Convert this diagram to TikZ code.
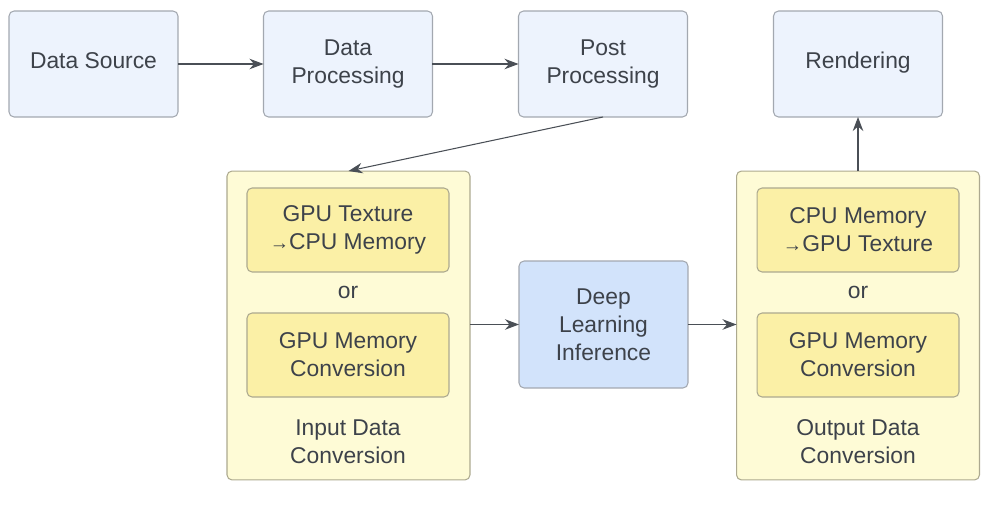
\documentclass[tikz,border=0pt]{standalone}
\usepackage{fontspec}
\setmainfont{Liberation Sans}
\usepackage{xcolor}
\usetikzlibrary{arrows.meta,positioning}

\definecolor{boxblue}{HTML}{EDF3FD}
\definecolor{dlblue}{HTML}{D2E3FB}
\definecolor{outeryellow}{HTML}{FEFBD6}
\definecolor{inneryellow}{HTML}{FBF0A6}
\definecolor{edgegray}{HTML}{A3A8B0}
\definecolor{yedge}{HTML}{ACA98F}
\definecolor{textgray}{HTML}{3D424A}
\definecolor{arrowgray}{HTML}{4A4F56}

\tikzset{
  stage/.style={draw=edgegray, line width=0.6pt, fill=boxblue, rounded corners=0.1cm,
    minimum width=3.38cm, minimum height=2.12cm, align=center, text=textgray,
    inner sep=0pt, outer sep=0pt},
  onestage/.style={stage, text height=9.5pt, text depth=4.8pt},
  container/.style={draw=yedge, line width=0.6pt, fill=outeryellow, rounded corners=0.1cm,
    minimum width=4.86cm, minimum height=6.18cm, inner sep=0pt, outer sep=0pt},
  convbox/.style={draw=yedge, line width=0.6pt, fill=inneryellow, rounded corners=0.1cm,
    minimum width=4.04cm, minimum height=1.68cm, align=center, text=textgray,
    inner sep=0pt, outer sep=0pt},
  plain/.style={align=center, text=textgray, inner sep=0pt},
  flow/.style={-{Stealth[length=8pt, width=6pt]}, draw=arrowgray, line width=0.6pt}
}
\newcommand{\smallarrow}{{\fontsize{11}{16}\selectfont →}}

\begin{document}
\begin{tikzpicture}[x=0.02cm, y=-0.02cm, font=\fontsize{13}{16}\selectfont]
    \useasboundingbox (0,0) rectangle (994,506);

    % Top row
    \node[onestage] (source) at (93.5,64) {Data Source};
    \node[stage] (proc) at (348,64) {Data\\Processing};
    \node[stage] (post) at (603,64) {Post\\Processing};
    \node[onestage] (render) at (858,64) {Rendering};

    % Input data conversion
    \node[container] (inconv) at (348.5,325.5) {};
    \node[convbox] (intex) at (348,230) {GPU Texture\\\smallarrow CPU Memory};
    \node[plain] (inor) at (348,292) {or};
    \node[convbox] (inmem) at (348,355) {GPU Memory\\Conversion};
    \node[plain] (inlabel) at (348,442) {Input Data\\Conversion};

    % Inference
    \node[stage, fill=dlblue, minimum height=2.54cm] (infer) at (603.5,324.5) {Deep\\Learning\\Inference};

    % Output data conversion
    \node[container] (outconv) at (858,325.5) {};
    \node[convbox] (outtex) at (858,230) {CPU Memory\\\smallarrow GPU Texture};
    \node[plain] (outor) at (858,292) {or};
    \node[convbox] (outmem) at (858,355) {GPU Memory\\Conversion};
    \node[plain] (outlabel) at (858,442) {Output Data\\Conversion};

    % Connectors
    \draw[flow] (source) -- (proc);
    \draw[flow] (proc) -- (post);
    \draw[flow] (post.south) -- (inconv.north);
    \draw[flow] (inconv.east |- infer.west) -- (infer.west);
    \draw[flow] (infer.east) -- (outconv.west |- infer.east);
    \draw[flow] (outconv.north) -- (render.south);
\end{tikzpicture}
\end{document}
